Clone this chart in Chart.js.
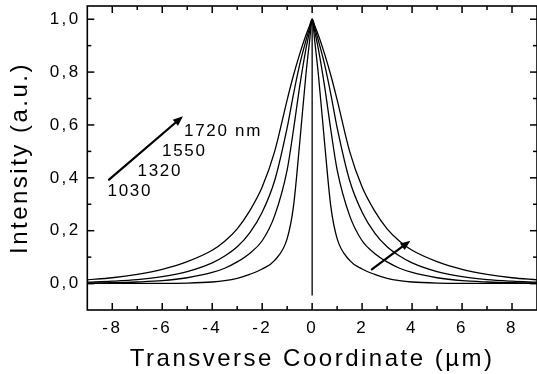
<!DOCTYPE html>
<html>
<head>
<meta charset="utf-8">
<script src="https://cdn.jsdelivr.net/npm/chart.js@4"></script>
<style>
  html, body { margin: 0; padding: 0; background: #fff; }
  #wrap { width: 537px; height: 374px; }
</style>
</head>
<body>
<div id="wrap"><canvas id="c" width="537" height="374"></canvas></div>
<script>
// ---- data ----
const xPositions = [-9,-8,-7,-6,-5,-4,-3.5,-3,-2.5,-2,-1.5,-1,-0.75,-0.5,-0.25,-0.1,0,0.1,0.25,0.5,0.75,1,1.5,2,2.5,3,3.5,4,5,6,7,8,9];
const wavelengths = ['1030', '1320', '1550', '1720 nm'];
const int1030 = [0.000,0.001,0.001,0.001,0.002,0.006,0.011,0.020,0.035,0.055,0.088,0.170,0.290,0.530,0.790,0.920,1.000,0.920,0.790,0.530,0.290,0.170,0.088,0.055,0.035,0.020,0.011,0.006,0.002,0.001,0.001,0.001,0.000];
const int1320 = [0.002,0.003,0.006,0.011,0.022,0.042,0.058,0.082,0.114,0.162,0.257,0.430,0.580,0.745,0.887,0.955,1.000,0.955,0.887,0.745,0.580,0.430,0.257,0.162,0.114,0.082,0.058,0.042,0.022,0.011,0.006,0.003,0.002];
const int1550 = [0.005,0.009,0.015,0.026,0.045,0.078,0.104,0.139,0.192,0.270,0.390,0.590,0.715,0.828,0.919,0.968,1.000,0.968,0.919,0.828,0.715,0.590,0.390,0.270,0.192,0.139,0.104,0.078,0.045,0.026,0.015,0.009,0.005];
const int1720 = [0.014,0.022,0.035,0.054,0.083,0.126,0.160,0.207,0.275,0.365,0.500,0.695,0.787,0.868,0.939,0.976,1.000,0.976,0.939,0.868,0.787,0.695,0.500,0.365,0.275,0.207,0.160,0.126,0.083,0.054,0.035,0.022,0.014];
const centerLineX = [0, 0];
const centerLineY = [1.0, -0.045];

const xTickValues = [-8,-6,-4,-2,0,2,4,6,8];
const xMinorValues = [-7,-5,-3,-1,1,3,5,7];
const yTickValues = [0,0.2,0.4,0.6,0.8,1.0];
const yMinorValues = [0.1,0.3,0.5,0.7,0.9];

// annotation: wavelength arrow and labels (data coordinates)
const arrowLeft = { from: [-8.13, 0.393], to: [-5.17, 0.633] };
const arrowRight = { from: [2.39, 0.054], to: [3.93, 0.162] };
const labelX = [-8.19, -6.99, -6.01, -5.13];
const labelY = [0.348, 0.424, 0.500, 0.577];

// ---- build ----
const series = [int1030, int1320, int1550, int1720];
const datasets = series.map((vals, i) => ({
  label: wavelengths[i],
  data: xPositions.map((x, j) => ({ x: x, y: vals[j] })),
  showLine: true,
  borderColor: '#000',
  borderWidth: 1.3,
  pointRadius: 0,
  cubicInterpolationMode: 'monotone',
  fill: false
}));
datasets.push({
  label: 'center',
  data: centerLineX.map((x, j) => ({ x: x, y: centerLineY[j] })),
  showLine: true,
  borderColor: '#000',
  borderWidth: 1.3,
  pointRadius: 0,
  fill: false
});

const FONT = "'Liberation Sans', Arial, Helvetica, sans-serif";

const spacing = {
  id: 'spacing',
  beforeDraw(chart) { chart.ctx.letterSpacing = '2.5px'; }
};

function seg(ctx, x1, y1, x2, y2) {
  ctx.beginPath(); ctx.moveTo(x1, y1); ctx.lineTo(x2, y2); ctx.stroke();
}

const frame = {
  id: 'frame',
  afterDatasetsDraw(chart) {
    const { ctx, chartArea: a, scales: { x, y } } = chart;
    ctx.save();
    ctx.strokeStyle = '#000';
    ctx.lineWidth = 1.6;
    ctx.strokeRect(a.left, a.top, a.right - a.left, a.bottom - a.top);
    ctx.lineWidth = 1.5;
    xTickValues.forEach(v => { const p = x.getPixelForValue(v); seg(ctx, p, a.bottom, p, a.bottom - 7); seg(ctx, p, a.top, p, a.top + 7); });
    xMinorValues.forEach(v => { const p = x.getPixelForValue(v); seg(ctx, p, a.bottom, p, a.bottom - 4); seg(ctx, p, a.top, p, a.top + 4); });
    yTickValues.forEach(v => { const p = y.getPixelForValue(v); seg(ctx, a.left, p, a.left + 7, p); seg(ctx, a.right, p, a.right - 7, p); });
    yMinorValues.forEach(v => { const p = y.getPixelForValue(v); seg(ctx, a.left, p, a.left + 4, p); seg(ctx, a.right, p, a.right - 4, p); });
    ctx.restore();
  }
};

function drawArrow(ctx, x1, y1, x2, y2) {
  const ang = Math.atan2(y2 - y1, x2 - x1);
  const hl = 10, hw = 4;
  const bx = x2 - hl * Math.cos(ang), by = y2 - hl * Math.sin(ang);
  ctx.beginPath(); ctx.moveTo(x1, y1); ctx.lineTo(bx, by); ctx.stroke();
  ctx.beginPath();
  ctx.moveTo(x2, y2);
  ctx.lineTo(bx + hw * Math.sin(ang), by - hw * Math.cos(ang));
  ctx.lineTo(bx - hw * Math.sin(ang), by + hw * Math.cos(ang));
  ctx.closePath(); ctx.fill();
}

const notes = {
  id: 'notes',
  afterDatasetsDraw(chart) {
    const { ctx, scales: { x, y } } = chart;
    ctx.save();
    ctx.strokeStyle = '#000'; ctx.fillStyle = '#000'; ctx.lineWidth = 2.2; ctx.lineCap = 'round';
    [arrowLeft, arrowRight].forEach(a => drawArrow(ctx,
      x.getPixelForValue(a.from[0]), y.getPixelForValue(a.from[1]),
      x.getPixelForValue(a.to[0]), y.getPixelForValue(a.to[1])));
    ctx.letterSpacing = '1.7px';
    ctx.font = '17px ' + FONT;
    ctx.textAlign = 'left'; ctx.textBaseline = 'middle';
    wavelengths.forEach((t, i) => ctx.fillText(t, x.getPixelForValue(labelX[i]), y.getPixelForValue(labelY[i])));
    ctx.restore();
  }
};

new Chart(document.getElementById('c'), {
  type: 'scatter',
  data: { datasets: datasets },
  options: {
    responsive: false,
    devicePixelRatio: 1,
    animation: false,
    layout: { padding: { top: 6, right: -2, left: 0, bottom: 0 } },
    plugins: { legend: { display: false }, tooltip: { enabled: false } },
    scales: {
      x: {
        type: 'linear', min: -9, max: 9,
        grid: { display: false, drawTicks: false },
        border: { display: false },
        afterBuildTicks(s) { s.ticks = xTickValues.map(v => ({ value: v })); },
        afterFit(s) { s.height = 64; s.paddingLeft = 0; s.paddingRight = 0; },
        ticks: { color: '#000', padding: 8, font: { family: FONT, size: 17 }, maxRotation: 0, autoSkip: false,
                 callback: v => String(v) },
        title: { display: true, text: 'Transverse Coordinate (µm)', color: '#000',
                 font: { family: FONT, size: 24 }, padding: { top: 0, bottom: 0 } }
      },
      y: {
        type: 'linear', min: -0.1, max: 1.05,
        grid: { display: false, drawTicks: false },
        border: { display: false },
        afterBuildTicks(s) { s.ticks = yTickValues.map(v => ({ value: v })); },
        afterFit(s) { s.width = 87.3; s.paddingTop = 0; s.paddingBottom = 0; },
        ticks: { color: '#000', padding: 6.5, font: { family: FONT, size: 17 },
                 callback: v => v.toFixed(1).replace('.', ',') },
        title: { display: true, text: 'Intensity (a.u.)', color: '#000',
                 font: { family: FONT, size: 24 }, padding: { top: 6, bottom: 0 } }
      }
    }
  },
  plugins: [spacing, frame, notes]
});
</script>
</body>
</html>
